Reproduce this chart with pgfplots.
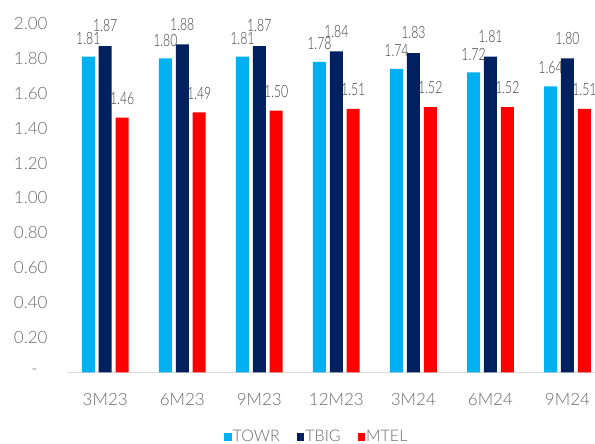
\documentclass[border=0pt]{standalone}
\usepackage{pgfplots}
\pgfplotsset{compat=1.18}
\usepackage{fontspec}
\setmainfont{Carlito}
\newfontfamily\lightfont{Lato Light}
\newfontfamily\narrowfont[FakeStretch=0.72]{Lato Light}
\definecolor{towr}{HTML}{00B0F0}
\definecolor{tbig}{HTML}{002060}
\definecolor{mtel}{HTML}{FF0000}
\definecolor{tickc}{HTML}{6A6A6A}
\definecolor{labc}{HTML}{404040}
\definecolor{axl}{HTML}{D9D9D9}
\begin{document}
\begin{tikzpicture}
\path[use as bounding box] (0,0) rectangle (595pt,444pt);
\begin{axis}[
  at={(66.7pt,71.7pt)}, anchor=south west,
  scale only axis, width=539.3pt, height=348.8pt,
  xmin=-0.5, xmax=6.5, ymin=0, ymax=2,
  ybar=3.9pt, bar width=13pt,
  axis x line*=bottom, axis y line*=left,
  y axis line style={draw=none},
  x axis line style={draw=axl, line width=1.5pt, -},
  tick style={draw=none},
  xtick={0,1,2,3,4,5,6},
  xticklabels={3M23,6M23,9M23,12M23,3M24,6M24,9M24},
  ytick={0,0.2,0.4,0.6,0.8,1.0,1.2,1.4,1.6,1.8,2.0},
  yticklabels={-\hphantom{0},0.20,0.40,0.60,0.80,1.00,1.20,1.40,1.60,1.80,2.00},
  /pgf/number format/assume math mode=true,
  ticklabel style={font=\lightfont\fontsize{17}{20}\selectfont, text=tickc},
  yticklabel style={inner sep=0pt, anchor=east, xshift=-19pt},
  xticklabel style={inner sep=0pt, anchor=north, yshift=-17pt},
  nodes near coords={\pgfmathprintnumber[fixed,fixed zerofill,precision=2,assume math mode=true]{\pgfplotspointmeta}},
  nodes near coords style={font=\narrowfont\fontsize{17}{20}\selectfont, text=labc, inner sep=0pt, anchor=south},
  legend columns=-1,
  legend style={at={(0.448,-0.1855)}, anchor=center, draw=none, inner sep=0pt,
    font=\lightfont\fontsize{16}{18}\selectfont, text=tickc,
    nodes={inner sep=1pt}},
  legend image code/.code={\fill[white, opacity=0] (-16pt,-1pt) rectangle (0pt,1pt); \fill[#1] (0pt,-3.8pt) rectangle (7.5pt,3.8pt);},
]
\addplot[fill=towr, draw=none, every node near coord/.append style={yshift=12pt}] coordinates {
(0,1.81) (1,1.80) (2,1.81) (3,1.78) (4,1.74) (5,1.72) (6,1.64)};
\addplot[fill=tbig, draw=none, every node near coord/.append style={yshift=14pt}] coordinates {
(0,1.87) (1,1.88) (2,1.87) (3,1.84) (4,1.83) (5,1.81) (6,1.80)};
\addplot[fill=mtel, draw=none, every node near coord/.append style={yshift=13pt}] coordinates {
(0,1.46) (1,1.49) (2,1.50) (3,1.51) (4,1.52) (5,1.52) (6,1.51)};
\legend{TOWR,TBIG,MTEL}
\end{axis}
\end{tikzpicture}
\end{document}
